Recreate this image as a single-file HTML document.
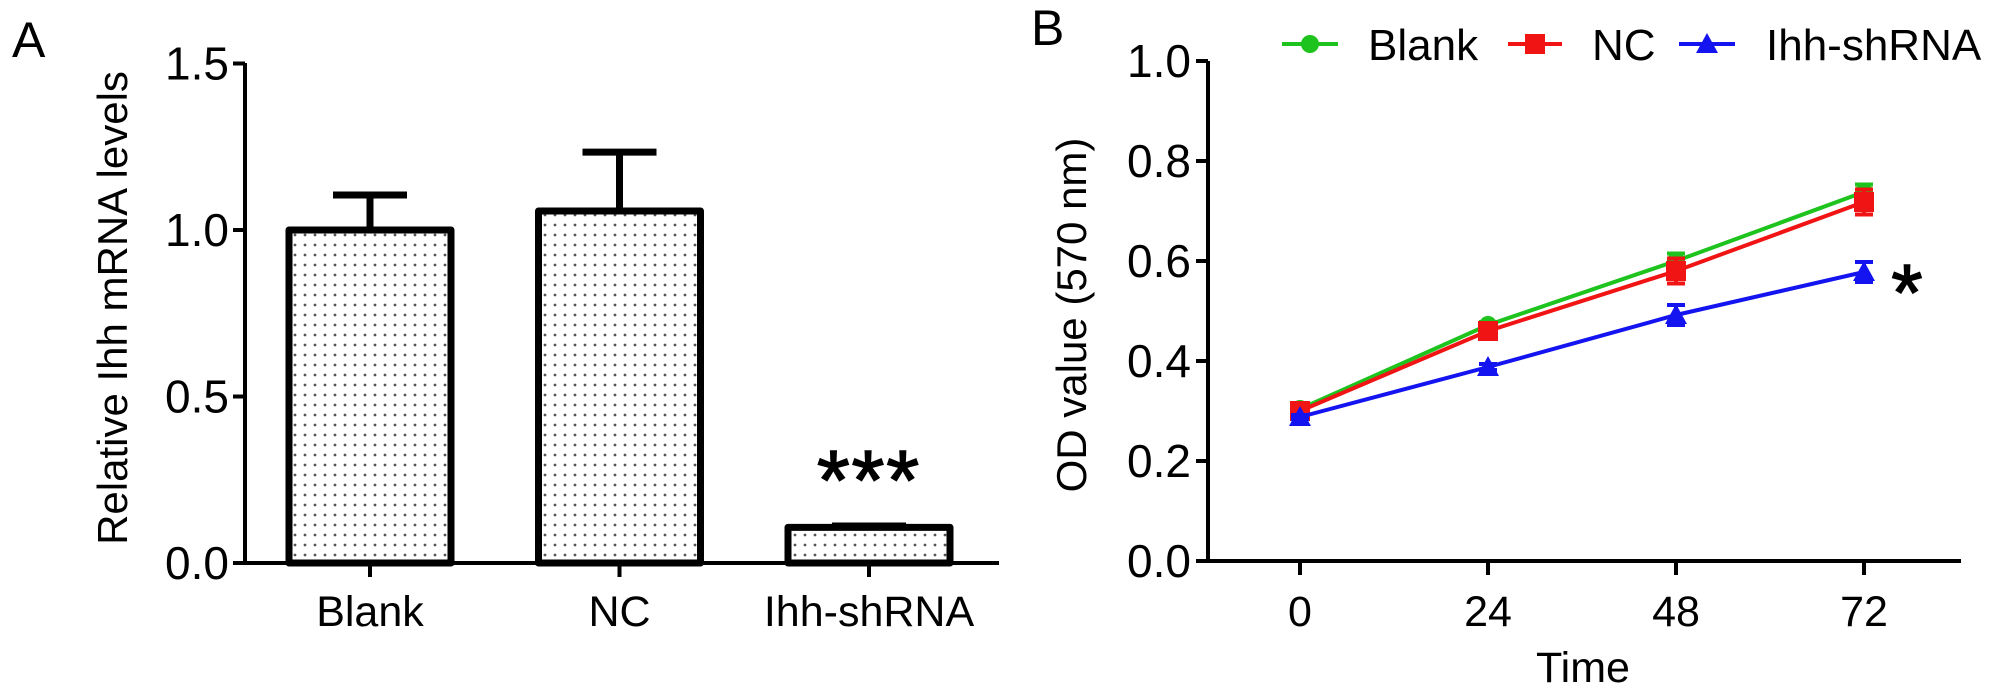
<!DOCTYPE html>
<html><head><meta charset="utf-8"><style>
html,body{margin:0;padding:0;background:#fff;}
svg{display:block;font-family:"Liberation Sans",Arial,sans-serif;}
</style></head><body>
<svg id="chart" width="2008" height="697" viewBox="0 0 2008 697" xmlns="http://www.w3.org/2000/svg">
<defs>
<pattern id="dots" width="10" height="10" patternUnits="userSpaceOnUse">
<rect width="10" height="10" fill="#fff"/><circle cx="5" cy="5" r="1.4" fill="#555"/>
</pattern>
</defs>
<g id="panelA"></g>
<g id="panelB"></g>
</svg>
<script>
const barCategories = ["Blank","NC","Ihh-shRNA"];
const barValues = [1.0, 1.057, 0.107];
const barErrors = [0.105, 0.177, 0.004];
const barTicks = [0.0, 0.5, 1.0, 1.5];

const timeCategories = [0, 24, 48, 72];
const blankValues = [0.304, 0.472, 0.600, 0.738];
const blankErrors = [0.005, 0.006, 0.015, 0.015];
const ncValues = [0.300, 0.460, 0.580, 0.718];
const ncErrors = [0.006, 0.010, 0.025, 0.025];
const ihhValues = [0.288, 0.388, 0.492, 0.578];
const ihhErrors = [0.004, 0.006, 0.020, 0.020];
const lineTicks = [0.0, 0.2, 0.4, 0.6, 0.8, 1.0];

const NS="http://www.w3.org/2000/svg";
function mk(parent,tag,attrs,text){const e=document.createElementNS(NS,tag);for(const k in attrs)e.setAttribute(k,attrs[k]);if(text!==undefined)e.textContent=text;parent.appendChild(e);return e;}

// ---- Panel A ----
const A=document.getElementById('panelA');
const ayA=v=>563-v*333;
const axA=i=>370+i*249.5;
let t=mk(A,'text',{x:12,y:57,'font-size':50},'A');


barCategories.forEach((c,i)=>{
  const x=axA(i), w=162, top=ayA(barValues[i]);
  const g=mk(A,'g',{});
  
  
  const eTop=ayA(barValues[i]+barErrors[i]);
  mk(g,'line',{x1:x,x2:x,y1:top,y2:eTop,stroke:'#000','stroke-width':7});
  mk(g,'line',{x1:x-37,x2:x+37,y1:eTop,y2:eTop,stroke:'#000','stroke-width':7});
  mk(g,'rect',{x:x-w/2,y:top,width:w,height:ayA(0)-top,fill:'url(#dots)',stroke:'#000','stroke-width':7,'stroke-linejoin':'round'});
  const lb=mk(A,'text',{x:x,y:626,'font-size':43,'text-anchor':'middle'},c);
  
  
  mk(A,'line',{x1:x,x2:x,y1:563,y2:577,stroke:'#000','stroke-width':4});
});
let ax=mk(A,'path',{d:'M245 63 V563 H999',fill:'none',stroke:'#000','stroke-width':4});


barTicks.forEach(v=>{
  mk(A,'line',{x1:233,x2:245,y1:ayA(v),y2:ayA(v),stroke:'#000','stroke-width':4});
  const tl=mk(A,'text',{x:229,y:ayA(v)+16,'font-size':46,'text-anchor':'end'},v.toFixed(1));
  
  
});
t=mk(A,'text',{x:0,y:0,'font-size':42,'text-anchor':'middle',transform:'translate(127,308) rotate(-90)'},'Relative Ihh mRNA levels');


t=mk(A,'text',{x:axA(2),y:ayA(barValues[2]+barErrors[2])-17,'font-size':84,'text-anchor':'middle','letter-spacing':2,'stroke':'#000','stroke-width':1.5},'***');



// ---- Panel B ----
const B=document.getElementById('panelB');
const ayB=v=>561-v*500;
const axB=h=>1300+h*(564/72);
t=mk(B,'text',{x:1031,y:45,'font-size':50},'B');


ax=mk(B,'path',{d:'M1208 61 V561 H1961',fill:'none',stroke:'#000','stroke-width':4});


lineTicks.forEach(v=>{
  mk(B,'line',{x1:1196,x2:1208,y1:ayB(v),y2:ayB(v),stroke:'#000','stroke-width':4});
  const tl=mk(B,'text',{x:1191,y:ayB(v)+16,'font-size':46,'text-anchor':'end'},v.toFixed(1));
  
  
});
timeCategories.forEach(h=>{
  mk(B,'line',{x1:axB(h),x2:axB(h),y1:561,y2:575,stroke:'#000','stroke-width':4});
  const tl=mk(B,'text',{x:axB(h),y:626,'font-size':43,'text-anchor':'middle'},String(h));
  
  
});
t=mk(B,'text',{x:1583,y:682,'font-size':43,'text-anchor':'middle'},'Time');


t=mk(B,'text',{x:0,y:0,'font-size':42,'text-anchor':'middle',transform:'translate(1086,315) rotate(-90)'},'OD value (570 nm)');



function marker(g,shape,x,y,col){
  if(shape==='circle') mk(g,'circle',{cx:x,cy:y,r:9,fill:col});
  else if(shape==='square') mk(g,'rect',{x:x-10,y:y-10,width:20,height:20,fill:col});
  else mk(g,'polygon',{points:`${x},${y-11} ${x+11},${y+9} ${x-11},${y+9}`,fill:col});
}
const series=[
  {name:'blank',vals:blankValues,errs:blankErrors,col:'#1ec31e',shape:'circle'},
  {name:'nc',vals:ncValues,errs:ncErrors,col:'#f01414',shape:'square'},
  {name:'ihh-shrna',vals:ihhValues,errs:ihhErrors,col:'#1414f0',shape:'triangle'}
];
series.forEach(s=>{
  const g=mk(B,'g',{});
  
  
  const pts=s.vals.map((v,i)=>axB(timeCategories[i])+','+ayB(v)).join(' ');
  mk(g,'polyline',{points:pts,fill:'none',stroke:s.col,'stroke-width':4});
  s.vals.forEach((v,i)=>{
    const x=axB(timeCategories[i]);
    const y1=ayB(v+s.errs[i]),y2=ayB(v-s.errs[i]);
    mk(g,'line',{x1:x,x2:x,y1:y1,y2:y2,stroke:s.col,'stroke-width':4});
    mk(g,'line',{x1:x-9,x2:x+9,y1:y1,y2:y1,stroke:s.col,'stroke-width':4});
    mk(g,'line',{x1:x-9,x2:x+9,y1:y2,y2:y2,stroke:s.col,'stroke-width':4});
    marker(g,s.shape,x,ayB(v),s.col);
  });
});
t=mk(B,'text',{x:1907,y:320,'font-size':80,'text-anchor':'middle','stroke':'#000','stroke-width':1.5},'*');



// legend
const legend=[{label:'Blank',col:'#1ec31e',shape:'circle',x1:1282,x2:1338,tx:1368},
 {label:'NC',col:'#f01414',shape:'square',x1:1508,x2:1562,tx:1592},
 {label:'Ihh-shRNA',col:'#1414f0',shape:'triangle',x1:1679,x2:1735,tx:1766}];
legend.forEach(l=>{
  const g=mk(B,'g',{});
  
  
  mk(g,'line',{x1:l.x1,x2:l.x2,y1:44,y2:44,stroke:l.col,'stroke-width':4});
  marker(g,l.shape,(l.x1+l.x2)/2,44,l.col);
  mk(g,'text',{x:l.tx,y:60,'font-size':44},l.label);
});
</script>
</body></html>
